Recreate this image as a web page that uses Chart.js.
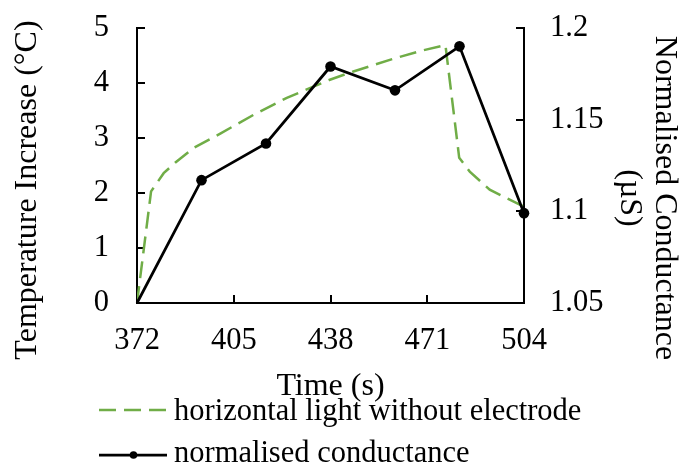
<!DOCTYPE html>
<html>
<head>
<meta charset="utf-8">
<script src="https://cdn.jsdelivr.net/npm/chart.js@4.4.1/dist/chart.umd.min.js"></script>
<style>
html,body{margin:0;padding:0;background:#fff;}
canvas{display:block;}
</style>
</head>
<body>
<canvas id="c" width="683" height="466"></canvas>
<script>
// ---- data ----
const xTicks = [372, 405, 438, 471, 504];
const tempTicks = [0, 1, 2, 3, 4, 5];
const condTicks = [1.05, 1.1, 1.15, 1.2];

const greenLabel = 'horizontal light without electrode';
const greenTime = [372, 376.8, 381.1, 385, 391.3, 400.4, 411.7, 423.1, 437.8, 445.8, 459.4, 468.5, 477.2, 481.9, 485.5, 492.3, 504];
const greenTemp = [0, 2.03, 2.36, 2.55, 2.82, 3.08, 3.42, 3.73, 4.06, 4.21, 4.44, 4.58, 4.69, 2.64, 2.39, 2.06, 1.75];

const condLabel = 'normalised conductance';
const condTime = [372, 394, 416, 438, 460, 482, 504];
const condValues = [1.05, 1.117, 1.137, 1.179, 1.166, 1.190, 1.099];

const xTitle = 'Time (s)';
const yTitle = 'Temperature Increase (°C)';
const y1Title = ['Normalised Conductance', '(µS)'];

// ---- styles ----
const FONT = "'Liberation Serif', 'Times New Roman', serif";
const FS = 30.5;
const TFS = 32;
const GREEN = '#70AD47';
const AXIS = '#000';

Chart.defaults.font.family = FONT;
Chart.defaults.font.size = FS;
Chart.defaults.color = '#000';

const titlesAndLegend = {
  id: 'titlesAndLegend',
  afterDraw(chart) {
    const ctx = chart.ctx;
    const ca = chart.chartArea;
    ctx.save();
    ctx.fillStyle = '#000';
    ctx.font = TFS + 'px ' + FONT;
    ctx.textBaseline = 'alphabetic';
    ctx.textAlign = 'center';
    // x title
    ctx.fillText(xTitle, (ca.left + ca.right) / 2, 395);
    // left title
    ctx.save();
    ctx.translate(36, 190);
    ctx.rotate(-Math.PI / 2);
    ctx.fillText(yTitle, 0, 0);
    ctx.restore();
    // right title (two lines)
    ctx.save();
    ctx.translate(656, 198);
    ctx.rotate(Math.PI / 2);
    ctx.fillText(y1Title[0], 0, 0);
    ctx.fillText(y1Title[1], 0, 35);
    ctx.restore();

    // legend
    ctx.font = FS + 'px ' + FONT;
    const ds = chart.data.datasets;
    const g = ds.find(d => d.yAxisID === 'y');
    const b = ds.find(d => d.yAxisID === 'y1');
    ctx.textAlign = 'left';
    // green dashed
    ctx.save();
    ctx.strokeStyle = g.borderColor;
    ctx.lineWidth = g.borderWidth;
    ctx.setLineDash(g.borderDash);
    ctx.beginPath();
    ctx.moveTo(99, 410);
    ctx.lineTo(166, 410);
    ctx.stroke();
    ctx.restore();
    ctx.fillText(g.label, 174, 420);
    // black line with marker
    ctx.save();
    ctx.strokeStyle = b.borderColor;
    ctx.lineWidth = b.borderWidth;
    ctx.beginPath();
    ctx.moveTo(99, 455);
    ctx.lineTo(167, 455);
    ctx.stroke();
    ctx.fillStyle = b.borderColor;
    ctx.beginPath();
    ctx.arc(133.5, 455, 3.8, 0, Math.PI * 2);
    ctx.fill();
    ctx.restore();
    ctx.fillText(b.label, 174, 462);
    ctx.restore();
  }
};

const axisCommon = {
  grid: { drawOnChartArea: false, drawTicks: true, tickLength: -8, color: AXIS, lineWidth: 2 },
  border: { display: true, color: AXIS, width: 2 }
};

function fitY(width) {
  return (s) => { s.width = width; s.paddingTop = 0; s.paddingBottom = 0; };
}

new Chart(document.getElementById('c'), {
  type: 'scatter',
  data: {
    datasets: [
      {
        label: condLabel,
        data: condTime.map((t, i) => ({ x: t, y: condValues[i] })),
        yAxisID: 'y1',
        showLine: true,
        borderColor: '#000',
        backgroundColor: '#000',
        borderWidth: 2.75,
        pointRadius: (c) => c.dataIndex === 0 ? 0 : 5.3,
        pointHoverRadius: 5.3,
        pointBorderWidth: 0,
        clip: false,
        order: 0
      },
      {
        label: greenLabel,
        data: greenTime.map((t, i) => ({ x: t, y: greenTemp[i] })),
        yAxisID: 'y',
        showLine: true,
        borderColor: GREEN,
        backgroundColor: GREEN,
        borderWidth: 2.5,
        borderDash: [17, 8],
        pointRadius: 0,
        tension: 0,
        order: 1
      }
    ]
  },
  options: {
    responsive: false,
    animation: false,
    devicePixelRatio: 1,
    layout: { padding: { top: 28, left: 0, right: 0, bottom: 0 } },
    plugins: { legend: { display: false }, tooltip: { enabled: false } },
    scales: {
      x: Object.assign({}, axisCommon, {
        type: 'linear',
        position: 'bottom',
        min: xTicks[0],
        max: xTicks[xTicks.length - 1],
        afterBuildTicks: (s) => { s.ticks = xTicks.map(v => ({ value: v })); },
        afterFit: (s) => { s.height = 466 - 303; s.paddingLeft = 0; s.paddingRight = 0; },
        ticks: { padding: 28, maxRotation: 0, autoSkip: false, color: '#000' }
      }),
      y: Object.assign({}, axisCommon, {
        type: 'linear',
        position: 'left',
        min: tempTicks[0],
        max: tempTicks[tempTicks.length - 1],
        afterBuildTicks: (s) => { s.ticks = tempTicks.map(v => ({ value: v })); },
        afterFit: fitY(137),
        ticks: { padding: 36, color: '#000' }
      }),
      y1: Object.assign({}, axisCommon, {
        type: 'linear',
        position: 'right',
        min: condTicks[0],
        max: condTicks[condTicks.length - 1],
        afterBuildTicks: (s) => { s.ticks = condTicks.map(v => ({ value: v })); },
        afterFit: fitY(683 - 524),
        ticks: { padding: 34, color: '#000', callback: (v) => String(+(+v).toFixed(2)) }
      })
    }
  },
  plugins: [titlesAndLegend]
});
</script>
</body>
</html>
